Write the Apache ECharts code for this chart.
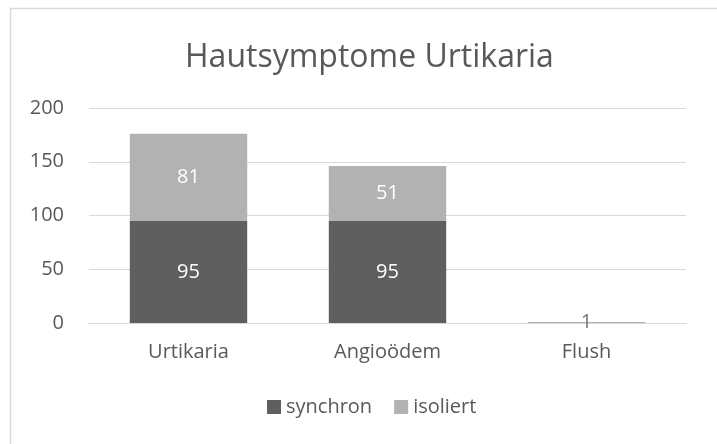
<!DOCTYPE html>
<html>
<head>
<meta charset="utf-8">
<script src="https://cdn.jsdelivr.net/npm/echarts@6/dist/echarts.min.js"></script>
<style>
  html, body { margin: 0; padding: 0; background: #fff; }
  #chart { width: 717px; height: 444px; }
</style>
</head>
<body>
<div id="chart"></div>
<script>
const categories = ['Urtikaria', 'Angioödem', 'Flush']
const synchron = [95, 95, 0]
const isoliert = [81, 51, 1]
const yTicks = { min: 0, max: 200, interval: 50 }

const font = '"Open Sans", "Noto Sans", sans-serif'
const textColor = '#595959'

const chart = echarts.init(document.getElementById('chart'), null, { renderer: 'canvas' })
chart.setOption({
  animation: false,
  textStyle: { fontFamily: font },
  graphic: [{
    type: 'rect',
    shape: { x: 10.5, y: 8.5, width: 760, height: 480 },
    style: { fill: 'none', stroke: '#d9d9d9', lineWidth: 1.5 },
    silent: true
  }],
  title: {
    text: 'Hautsymptome Urtikaria',
    left: 180,
    top: 37,
    textStyle: { fontFamily: font, fontSize: 32, fontWeight: 'normal', color: textColor }
  },
  grid: { left: 89, right: 31, top: 108, bottom: 121 },
  legend: {
    bottom: 22,
    left: 262,
    itemWidth: 14,
    itemHeight: 14,
    itemGap: 22,
    icon: 'rect',
    textStyle: { fontFamily: font, fontSize: 20, color: textColor },
    data: ['synchron', 'isoliert']
  },
  xAxis: {
    type: 'category',
    data: categories,
    axisLine: { lineStyle: { color: '#d9d9d9' } },
    axisTick: { show: false },
    axisLabel: { fontFamily: font, fontSize: 20, color: textColor, margin: 19 }
  },
  yAxis: {
    type: 'value',
    min: yTicks.min,
    max: yTicks.max,
    interval: yTicks.interval,
    axisLine: { show: false },
    axisTick: { show: false },
    splitLine: { lineStyle: { color: '#d9d9d9' } },
    axisLabel: { fontFamily: font, fontSize: 20, color: textColor, margin: 25 }
  },
  series: [
    {
      name: 'synchron',
      type: 'bar',
      stack: 'total',
      barWidth: '59%',
      itemStyle: { color: '#5f5f5f' },
      label: {
        show: true,
        position: 'inside',
        color: '#ffffff',
        fontFamily: font,
        fontSize: 20,
        formatter: p => (p.value ? p.value : '')
      },
      data: synchron
    },
    {
      name: 'isoliert',
      type: 'bar',
      stack: 'total',
      itemStyle: { color: '#b2b2b2' },
      label: {
        show: true,
        position: 'inside',
        color: '#ffffff',
        fontFamily: font,
        fontSize: 20
      },
      data: isoliert.map(v => (v < 5 ? { value: v, label: { color: '#767676' } } : v))
    }
  ]
})
</script>
</body>
</html>
